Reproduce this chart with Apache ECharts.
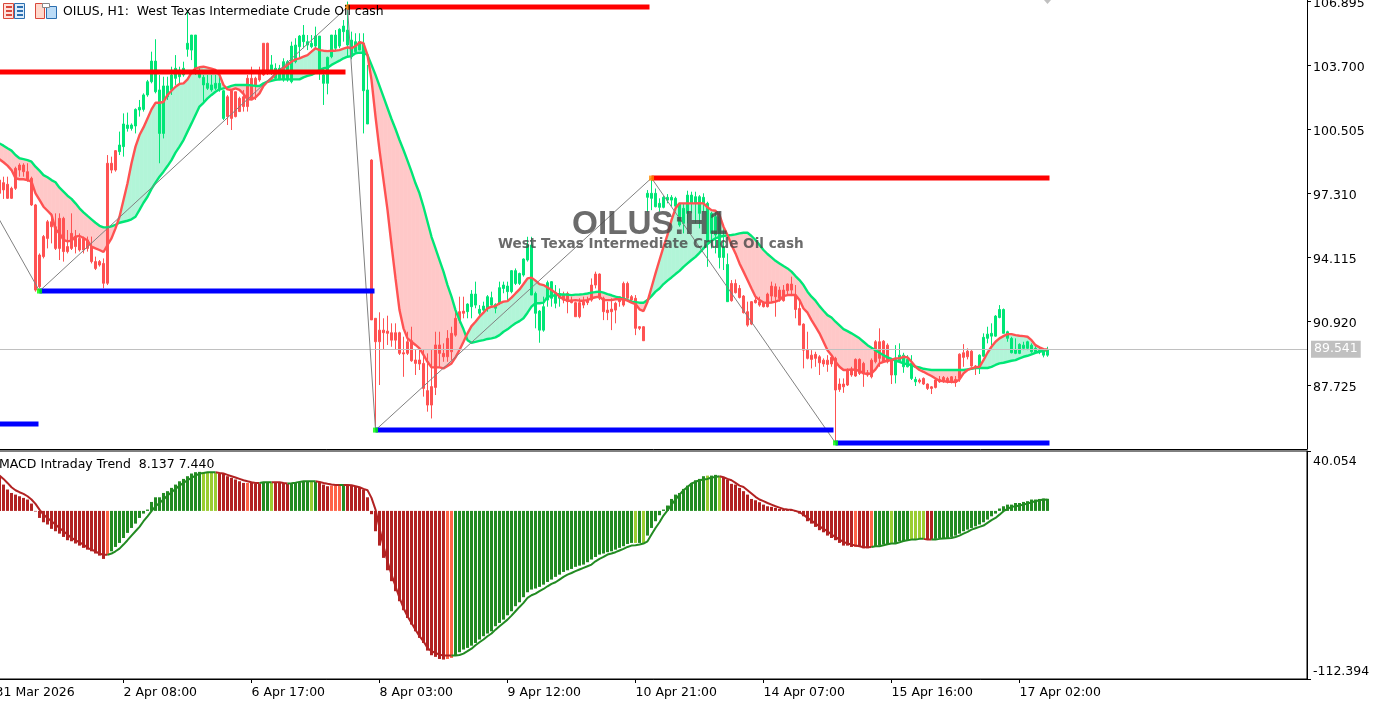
<!DOCTYPE html>
<html><head><meta charset="utf-8">
<style>html,body{margin:0;padding:0;background:#fff;overflow:hidden}#c{width:1375px;height:703px}</style>
<script src="https://cdn.jsdelivr.net/npm/echarts@6/dist/echarts.min.js"></script>
</head><body><div id="c"></div>
<script>
const firstBar=-1;
const bodyHigh=[97.98,97.85,97.77,97.57,98.57,98.73,98.73,98.40,98.07,96.74,94.24,95.16,95.90,95.90,95.65,96.07,96.07,94.66,95.32,95.16,95.07,95.07,94.99,94.66,93.91,93.91,93.82,98.82,98.82,99.45,99.73,100.78,100.73,100.73,101.51,101.61,102.23,102.89,103.92,103.92,102.48,102.68,102.68,103.23,103.56,103.28,103.56,104.81,105.22,105.22,103.28,103.11,102.81,102.73,102.81,102.81,102.44,102.14,102.44,102.39,102.06,102.14,103.06,103.06,103.06,103.31,104.81,104.81,103.73,103.56,103.56,103.89,103.89,104.67,104.72,105.17,105.22,104.89,104.81,105.17,105.17,103.23,104.11,105.22,105.22,105.51,105.67,105.47,104.97,104.89,104.89,104.81,102.48,98.98,
91.08,90.49,90.49,90.44,90.36,90.36,90.36,89.36,89.91,89.96,89.0,89.0,88.83,87.47,87.67,89.75,89.75,89.33,90.08,90.33,91.08,91.41,91.44,91.79,92.29,92.29,91.53,91.69,92.16,92.11,91.78,92.61,92.74,92.69,93.46,93.46,93.32,94.04,94.74,94.74,92.32,91.44,91.66,92.86,92.91,92.32,92.32,92.24,92.32,91.99,91.86,91.86,91.91,91.99,92.74,93.29,93.29,92.08,91.49,91.54,91.83,92.16,92.82,92.82,92.16,92.08,90.66,90.66,
97.32,97.32,97.32,96.82,97.12,97.12,97.12,97.07,96.82,96.57,97.23,97.23,97.15,97.15,97.12,96.82,96.32,96.15,96.15,94.65,93.77,92.82,92.82,92.57,92.19,91.41,91.91,91.99,91.91,91.86,92.29,92.69,92.66,92.49,92.49,92.79,92.79,92.24,91.57,90.79,89.49,89.24,89.28,89.16,88.99,88.99,89.13,89.08,87.80,87.80,88.53,88.53,89.03,89.03,88.83,88.36,88.99,89.91,89.91,89.94,89.74,88.99,89.03,89.24,89.24,89.03,88.83,88.03,88.0,88.08,87.80,87.66,88.0,88.03,88.13,88.08,88.16,88.03,89.29,89.36,89.44,89.44,88.70,89.24,90.13,90.29,90.33,91.19,91.52,91.52,90.41,90.08,89.53,89.78,89.74,89.91,89.74,89.58,89.49,89.46,89.53];
const bodyLow=[97.32,97.49,97.07,97.07,97.57,98.48,98.40,97.98,96.74,92.49,92.66,94.16,95.07,95.65,94.57,94.57,94.41,94.41,94.57,94.66,94.49,94.49,94.57,93.91,93.57,93.74,92.83,92.83,98.48,98.48,99.40,99.65,100.56,100.56,100.68,101.48,101.51,102.23,102.89,102.39,100.31,100.31,102.14,102.48,103.06,103.14,103.23,104.51,104.47,103.56,103.11,102.73,102.56,102.48,102.56,102.48,101.06,101.15,101.06,101.15,101.40,101.65,101.65,101.98,102.73,102.98,103.23,103.39,103.48,103.06,102.98,102.98,102.98,102.89,103.89,104.64,104.89,104.72,104.64,104.67,103.48,102.81,102.81,104.14,104.56,104.67,105.39,104.72,104.14,104.39,104.47,102.44,100.78,91.0,
89.91,89.91,90.36,90.33,89.99,89.99,89.33,89.30,89.33,88.96,88.83,88.80,87.58,86.75,86.75,87.63,89.33,89.16,89.16,89.41,90.24,90.99,91.33,91.41,91.66,91.74,91.33,91.49,91.58,91.74,91.58,91.83,92.57,92.41,92.41,92.82,92.82,93.24,93.99,92.24,91.33,90.49,90.49,91.99,92.08,91.83,92.08,91.99,91.91,91.86,91.16,91.16,91.74,91.86,91.99,92.74,92.08,91.41,91.36,91.41,91.49,91.91,91.74,92.08,91.99,90.58,90.58,89.96,
97.12,97.07,96.65,96.62,96.62,96.98,96.98,96.68,95.74,95.82,96.32,96.82,96.82,96.32,96.82,94.90,95.32,95.24,94.12,94.12,91.91,91.96,92.36,92.12,91.36,90.74,90.79,91.86,91.74,91.66,91.66,92.19,92.16,92.07,91.96,92.46,92.49,91.52,90.74,89.49,89.08,89.03,89.08,88.86,88.80,88.78,88.80,87.50,87.53,87.66,87.75,88.25,88.20,88.33,88.33,88.25,88.16,88.91,89.08,88.91,88.91,88.25,88.25,88.96,88.66,88.66,88.08,87.91,87.91,87.80,87.58,87.58,87.63,87.91,87.91,87.91,87.91,87.88,88.08,89.13,89.16,88.70,88.66,88.70,89.19,90.08,90.19,90.19,91.12,90.33,90.08,89.36,89.33,89.33,89.58,89.58,89.41,89.41,89.41,89.24,89.24];
const wickHigh=[98.15,98.15,98.15,97.65,98.65,98.82,98.82,98.82,98.15,96.79,94.32,95.24,95.99,96.32,96.32,96.32,96.15,95.49,96.32,95.49,95.32,95.16,95.16,95.16,94.16,93.99,94.07,99.23,99.15,99.48,100.40,101.31,101.35,100.81,101.56,101.98,102.31,102.98,104.39,105.01,103.23,103.14,103.14,103.64,104.22,103.64,103.89,106.47,105.22,105.22,103.64,103.23,103.23,103.23,103.23,103.14,102.48,102.23,102.48,102.39,102.14,102.48,103.23,103.64,103.14,103.64,104.81,104.84,104.22,103.81,103.73,104.06,103.97,104.89,105.06,105.22,105.72,105.22,105.22,105.64,105.17,103.56,104.14,105.22,105.47,105.56,105.97,106.89,105.39,105.31,105.31,105.31,103.73,99.02,
91.08,91.38,91.08,91.21,90.83,90.83,90.41,90.16,90.41,90.66,89.50,89.50,89.50,89.33,89.50,90.41,90.41,89.83,90.49,90.66,91.58,92.16,92.16,91.83,92.49,92.91,91.74,91.91,92.24,92.41,91.83,92.91,92.91,92.91,93.49,93.57,93.36,94.07,95.15,95.15,92.41,91.49,92.16,92.96,92.94,92.74,92.57,92.41,92.41,92.16,91.91,92.08,92.16,92.16,93.07,93.41,93.32,92.16,91.91,92.08,91.91,92.16,92.91,92.91,92.24,92.24,90.69,90.69,
97.48,97.98,97.56,97.07,97.18,97.28,97.23,97.15,96.82,96.82,97.45,97.40,97.40,97.23,97.32,96.90,96.40,96.40,96.40,95.57,94.32,92.99,93.02,92.74,92.24,91.91,91.94,92.16,92.16,91.91,92.36,92.91,92.82,92.66,92.74,92.82,93.16,92.74,91.91,90.83,90.41,89.49,89.41,89.24,89.08,89.24,89.24,89.16,88.08,88.08,88.58,88.66,89.08,89.08,88.91,88.50,89.08,89.99,90.58,89.99,89.83,89.08,89.74,89.83,89.36,89.24,89.24,88.16,88.08,88.13,87.83,87.70,88.08,88.20,88.20,88.16,88.20,88.20,89.33,89.79,89.58,89.49,88.75,89.28,90.33,90.66,90.83,91.24,91.74,91.57,90.46,90.16,90.08,89.83,89.91,89.96,89.83,89.74,89.66,89.58,89.66];
const wickLow=[96.99,97.04,97.04,97.04,97.49,98.15,98.15,97.90,96.69,92.41,92.58,94.07,94.57,94.82,94.49,93.99,93.91,94.32,94.49,94.32,94.41,94.32,94.41,93.82,93.49,93.66,92.58,92.74,98.32,98.40,99.23,99.15,100.40,100.45,100.31,101.15,101.40,102.14,102.81,102.31,98.82,100.06,101.98,102.23,102.73,102.81,103.14,104.14,103.97,103.23,103.06,101.81,102.48,102.39,102.48,102.39,100.98,100.73,100.48,101.11,101.40,101.40,101.40,101.98,101.98,102.89,103.18,103.23,103.23,102.98,102.98,102.89,102.89,102.81,103.81,104.06,104.56,104.47,104.56,104.56,102.98,101.73,102.26,104.06,104.47,104.56,104.89,104.14,104.01,104.39,104.47,100.31,100.78,91.0,
85.67,87.75,89.50,89.75,89.66,89.50,89.25,88.16,89.25,88.91,88.25,88.50,87.17,86.42,86.08,87.25,88.66,88.91,88.91,89.0,90.16,90.83,91.08,91.08,91.08,91.58,91.24,91.33,91.41,91.66,91.33,91.74,92.33,91.99,92.33,92.74,92.74,93.16,93.91,92.24,90.58,89.86,90.41,91.66,91.66,91.58,91.66,91.83,91.33,91.83,91.16,91.08,91.58,91.74,91.91,92.57,91.99,90.99,90.99,90.49,90.83,91.66,91.66,91.99,91.91,90.24,90.49,89.96,
96.40,96.48,96.62,96.40,96.57,96.82,96.65,96.57,95.65,95.32,95.82,96.32,95.82,95.57,96.40,93.65,94.57,94.32,93.57,93.49,91.91,91.91,92.32,92.07,91.32,90.66,90.74,91.82,91.66,91.62,91.62,91.91,91.16,91.91,91.91,92.24,92.19,91.08,90.74,88.58,89.03,88.58,88.66,88.25,88.66,88.41,88.66,84.92,87.41,87.36,87.70,88.16,88.16,88.25,87.66,88.16,88.08,88.83,88.66,88.86,88.83,87.80,87.83,88.86,88.36,88.63,88.0,87.70,87.83,87.75,87.50,87.30,87.58,87.86,87.86,87.83,87.83,87.66,87.91,88.66,89.03,88.66,88.25,88.30,89.16,89.83,89.74,90.16,91.08,90.33,89.91,89.33,89.29,89.29,89.49,89.49,89.36,89.33,89.29,89.13,89.16];
const fastLine=[99.02,98.87,98.70,98.48,98.07,98.02,98.02,97.98,97.90,97.32,96.99,96.65,96.45,96.24,95.52,95.32,94.99,94.92,94.96,95.16,95.19,95.09,94.96,94.66,94.57,94.49,94.39,94.74,95.07,95.57,96.15,96.99,97.82,98.82,99.65,100.23,100.61,101.06,101.51,101.84,101.84,101.88,102.23,102.44,102.64,102.78,102.81,103.01,103.34,103.56,103.61,103.64,103.59,103.54,103.48,103.23,102.73,102.51,102.48,102.56,102.48,102.28,102.01,102.01,102.11,102.31,102.68,102.89,103.06,103.28,103.44,103.56,103.73,103.89,104.01,104.06,104.14,104.22,104.39,104.56,104.47,104.44,104.42,104.44,104.44,104.47,104.54,104.61,104.56,104.67,104.86,104.81,104.22,102.98,101.15,99.48,
97.98,96.49,94.74,93.07,91.49,90.58,90.08,89.91,89.75,89.58,89.25,88.91,88.63,88.63,88.63,88.58,88.70,88.83,89.13,89.50,89.91,90.33,90.69,90.91,91.16,91.36,91.58,91.66,91.69,91.83,91.91,91.94,92.11,92.32,92.52,92.79,93.07,93.11,92.96,92.79,92.74,92.62,92.49,92.36,92.16,92.03,91.96,91.96,91.99,91.96,91.96,91.99,92.08,92.13,92.16,91.99,91.99,91.99,92.03,92.03,92.03,91.96,91.86,91.79,91.53,91.44,
91.91,92.62,93.32,93.99,94.65,95.24,95.98,96.57,96.82,96.82,96.82,96.82,96.82,96.83,96.82,96.62,96.48,96.45,96.23,95.65,95.24,94.74,94.32,93.82,93.41,92.99,92.57,92.16,91.99,91.87,91.86,91.87,91.91,91.99,92.19,92.24,92.24,92.24,91.99,91.57,91.36,90.99,90.66,90.33,89.91,89.49,89.24,88.91,88.66,88.50,88.50,88.53,88.50,88.46,88.33,88.30,88.33,88.53,88.83,88.91,88.96,88.99,89.08,89.08,89.16,89.13,88.91,88.66,88.50,88.41,88.30,88.20,88.08,87.96,87.95,87.91,87.91,87.90,88.03,88.33,88.50,88.58,88.63,88.66,88.99,89.36,89.66,89.91,90.08,90.19,90.29,90.29,90.24,90.21,90.19,90.16,89.99,89.74,89.63,89.54,89.53];
const slowLine=[99.81,99.70,99.57,99.45,99.23,99.07,99.03,98.98,98.90,98.65,98.45,98.23,98.12,97.98,97.87,97.60,97.40,97.20,97.04,96.82,96.57,96.37,96.19,96.02,95.85,95.70,95.62,95.62,95.67,95.75,95.85,95.90,95.95,96.02,96.15,96.49,96.85,97.15,97.54,97.85,98.15,98.40,98.68,98.98,99.35,99.65,99.98,100.40,100.81,101.23,101.65,101.84,102.06,102.23,102.39,102.51,102.56,102.61,102.68,102.73,102.73,102.73,102.73,102.71,102.68,102.68,102.81,102.89,102.94,102.98,103.01,103.01,103.01,103.01,103.01,103.01,103.11,103.18,103.23,103.34,103.48,103.56,103.59,103.73,103.84,103.94,104.06,104.14,104.17,104.31,104.34,104.34,104.22,103.73,103.23,102.68,102.13,101.58,101.03,100.53,99.98,99.48,
98.95,98.40,97.82,97.32,96.65,95.90,95.15,94.57,93.99,93.41,92.74,92.16,91.49,90.99,90.53,89.99,89.86,89.90,89.95,89.99,90.05,90.08,90.13,90.24,90.41,90.53,90.69,90.83,90.94,91.08,91.36,91.66,91.83,91.83,91.86,92.16,92.19,92.24,92.27,92.27,92.26,92.24,92.26,92.27,92.29,92.32,92.36,92.39,92.41,92.36,92.29,92.23,92.16,92.11,92.06,91.99,91.91,91.89,91.86,91.86,
91.99,92.19,92.41,92.57,92.79,92.96,93.12,93.29,93.45,93.65,93.82,93.99,94.15,94.35,94.57,94.79,94.95,95.07,95.15,95.19,95.22,95.24,95.27,95.32,95.35,95.35,95.19,94.99,94.74,94.49,94.29,94.12,93.95,93.82,93.69,93.57,93.41,93.19,92.99,92.74,92.41,92.16,91.96,91.69,91.46,91.24,91.12,90.91,90.73,90.54,90.44,90.33,90.21,90.08,89.91,89.74,89.61,89.49,89.36,89.24,89.13,89.05,88.96,88.91,88.83,88.78,88.75,88.66,88.63,88.56,88.53,88.50,88.50,88.50,88.50,88.50,88.50,88.50,88.50,88.50,88.53,88.56,88.60,88.60,88.60,88.60,88.66,88.75,88.83,88.86,88.91,88.96,88.99,89.08,89.16,89.21,89.28,89.36,89.41,89.46,89.49];
const macdHist=[23.2,17.6,14.3,12.0,10.9,9.8,8.7,7.6,4.9,-0.4,-4.7,-7.6,-9.1,-12.0,-13.6,-15.2,-17.4,-19.6,-20.3,-21.8,-23.2,-24.7,-25.9,-27.0,-28.5,-29.9,-32.1,-29.2,-27.0,-24.1,-21.4,-18.1,-14.7,-11.4,-8.5,-4.7,-1.8,0.9,6.0,9.1,9.1,12.0,13.2,15.4,17.6,19.8,21.4,23.2,25.0,25.9,26.1,25.9,25.4,25.4,25.4,25.0,25.0,23.2,22.1,21.0,19.8,18.7,18.7,18.7,18.3,18.3,18.7,18.7,18.7,19.2,18.7,18.7,18.1,18.1,18.7,19.2,19.4,19.4,19.4,19.4,19.4,17.6,16.5,16.9,16.9,16.9,16.9,17.2,16.9,16.0,15.4,14.3,9.1,-2.2,-13.6,-23.2,-31.4,-39.7,-47.0,-53.7,-60.4,-66.4,-71.6,-76.0,-80.5,-84.9,-88.3,-93.4,-96.5,-97.6,-99.0,-99.4,-99.0,-98.3,-96.7,-94.5,-92.7,-91.6,-90.1,-88.3,-86.0,-83.8,-82.0,-80.5,-77.1,-74.9,-72.7,-69.8,-67.1,-63.7,-61.1,-57.7,-54.4,-52.6,-51.9,-50.8,-49.3,-47.5,-45.9,-44.1,-42.6,-40.8,-39.7,-38.8,-37.4,-36.6,-35.9,-34.3,-32.5,-30.8,-29.2,-28.5,-27.6,-27.0,-25.9,-24.7,-23.6,-22.1,-21.4,-21.4,-21.4,-21.4,-16.5,-11.4,-6.9,-2.9,0.9,3.6,8.0,10.9,12.0,14.7,16.9,18.7,20.5,21.4,23.2,23.6,23.6,24.1,23.2,22.7,21.0,18.1,17.6,15.4,13.2,10.9,8.0,7.1,5.8,4.2,3.1,2.7,2.0,1.3,0.9,0.9,0.9,-0.4,-1.8,-3.6,-6.9,-8.5,-10.7,-12.9,-14.3,-16.5,-18.1,-19.6,-21.4,-23.2,-23.2,-24.1,-24.1,-24.1,-25.0,-25.0,-24.1,-23.6,-23.2,-22.5,-22.3,-21.4,-21.4,-20.3,-20.3,-19.8,-19.2,-19.2,-18.7,-18.7,-19.2,-19.2,-18.7,-18.1,-18.1,-18.1,-17.4,-16.5,-15.2,-13.6,-12.5,-11.4,-10.3,-9.1,-7.6,-5.8,-3.6,-1.8,1.6,3.1,4.2,4.2,5.3,5.3,6.0,6.5,7.6,7.6,8.0,8.2,8.1];
const macdSignal=[23.6,21.4,18.7,15.8,13.8,12.5,11.4,9.8,7.6,4.7,0.9,-2.5,-4.7,-6.9,-9.1,-11.4,-13.6,-15.8,-18.1,-19.6,-21.0,-22.5,-24.7,-25.9,-27.0,-28.5,-29.4,-29.4,-28.5,-27.0,-25.2,-22.5,-19.6,-16.5,-13.6,-10.7,-6.9,-3.6,-0.2,3.1,5.3,7.6,10.3,12.5,14.7,16.9,18.7,20.5,22.1,23.6,25.0,25.4,25.9,25.9,25.9,25.4,25.0,24.1,23.2,22.3,21.4,20.5,19.8,19.2,18.7,18.7,19.2,19.2,19.2,19.2,19.2,18.7,18.3,18.5,18.9,19.4,19.8,19.8,19.8,19.8,19.4,18.7,18.1,17.6,17.4,17.4,17.4,17.4,17.2,16.5,15.8,14.7,13.8,8.7,0.9,-11.4,-23.6,-33.7,-42.6,-50.4,-58.2,-64.9,-70.4,-74.9,-79.4,-83.8,-87.2,-91.6,-93.8,-95.0,-96.1,-96.7,-96.7,-96.7,-96.7,-96.3,-95.4,-93.8,-92.1,-89.8,-87.8,-86.0,-83.8,-82.0,-79.4,-77.1,-74.9,-72.7,-70.0,-67.1,-64.2,-61.5,-58.2,-56.4,-55.3,-53.7,-52.2,-50.4,-48.8,-47.7,-45.9,-44.1,-42.6,-41.5,-40.3,-39.2,-38.1,-37.0,-35.9,-33.7,-32.1,-30.8,-29.2,-28.5,-27.6,-26.5,-25.4,-24.1,-23.2,-23.0,-22.5,-21.8,-20.3,-15.8,-11.4,-7.6,-3.1,0.4,4.2,7.6,10.9,13.8,16.0,18.3,19.4,20.5,21.0,21.4,22.3,22.7,23.2,22.5,21.4,20.5,18.7,16.9,16.0,13.8,11.6,9.4,7.6,6.5,5.3,4.2,3.1,2.2,1.3,0.9,0.7,0,-0.9,-2.5,-4.7,-6.5,-8.5,-10.3,-12.0,-13.6,-15.8,-17.4,-19.2,-20.7,-21.8,-22.5,-23.2,-23.6,-24.3,-24.3,-24.1,-23.6,-23.6,-23.0,-22.3,-21.8,-21.8,-21.0,-20.1,-19.6,-19.2,-19.2,-18.7,-18.7,-19.2,-19.2,-19.2,-18.7,-18.5,-18.3,-18.1,-17.4,-16.5,-15.2,-14.0,-12.5,-11.6,-10.7,-9.8,-8.0,-6.2,-4.7,-2.5,-0.2,1.3,2.7,3.1,3.6,4.2,4.9,5.8,6.5,7.1,7.6,7.4];
// bar index where each colour run starts
const candleRuns=[[-1,'R'],[29,'G'],[56,'R'],[67,'G'],[92,'R'],[116,'G'],[140,'R'],[161,'G'],[182,'R'],[223,'G'],[229,'R'],[244,'G']];
const macdRuns=[[-1,'R'],[26,'T'],[27,'G'],[50,'L'],[54,'R'],[61,'T'],[62,'R'],[65,'G'],[67,'L'],[68,'R'],[72,'G'],[77,'L'],[78,'G'],[79,'R'],[82,'T'],[85,'G'],[86,'R'],[111,'T'],[113,'G'],[158,'L'],[159,'G'],[160,'L'],[161,'G'],[176,'L'],[177,'G'],[179,'L'],[180,'R'],[213,'T'],[214,'R'],[217,'T'],[218,'G'],[222,'L'],[223,'G'],[227,'L'],[231,'R'],[233,'G']];
const zigzagBars=[-1,9,86,93,162,208];
const zigzagPrices=[95.99,92.44,106.62,85.50,98.08,84.86];
const pivotLows=[[9,92.44],[93,85.50],[208,84.86]];
const pivotHighs=[[86,106.62],[162,98.08]];
const levelLines=[[-2.75,85.5,103.38,'#ff0000'],[9,92.75,92.44,'#0000ff'],[86,161.5,106.62,'#ff0000'],[-2.75,8.75,85.80,'#0000ff'],[93,207.5,85.50,'#0000ff'],[162,261.5,98.08,'#ff0000'],[208,261.5,84.86,'#0000ff']];
const lastPrice=89.541;
const priceTicks=[87.725,90.920,94.115,97.310,100.505,103.700,106.895];
const macdTicks=[-112.394,40.054];
const timeBars=[-2,30,62,94,126,158,190,222,254];
const timeLabels=['31 Mar 2026','2 Apr 08:00','6 Apr 17:00','8 Apr 03:00','9 Apr 12:00','10 Apr 21:00','14 Apr 07:00','15 Apr 16:00','17 Apr 02:00'];

const FONT='"DejaVu Sans"';
const UP='#00e676',DN='#ff5252';
const runAt=(runs,i)=>{let s=runs[0][1];for(const r of runs){if(i>=r[0])s=r[1];else break}return s};
const bars=macdHist.map((_,k)=>k+firstBar);
const candleData=bars.map((i,k)=>{const c=runAt(candleRuns,i)==='G'?UP:DN;return {value:[i,bodyLow[k],bodyHigh[k],wickLow[k],wickHigh[k]],itemStyle:{color:c,color0:c,borderColor:c,borderColor0:c}}});
const macdColor={R:'#b22222',T:'#ff6347',G:'#228b22',L:'#9acd32'};
const histData=bars.map((i,k)=>({value:[i,macdHist[k]],itemStyle:{color:macdColor[runAt(macdRuns,i)]}}));
const isRed=i=>{const s=runAt(macdRuns,i);return s==='R'||s==='T'};
const sigRed=bars.map((i,k)=>[i,(isRed(i)||isRed(i+1))?macdSignal[k]:'-']);
const sigGreen=bars.map((i,k)=>[i,(!isRed(i)||(k<bars.length-1&&!isRed(i+1)))?macdSignal[k]:'-']);
const fillData=bars.slice(0,-1).map((i,k)=>[i,fastLine[k],slowLine[k],fastLine[k+1],slowLine[k+1]]);
const PINK='#ffc8c8',MINT='#b2f5d8';
function renderFill(p,api){
  const x0=api.value(0),f0=api.value(1),s0=api.value(2),f1=api.value(3),s1=api.value(4);
  const poly=(pts,c)=>({type:'polygon',shape:{points:pts.map(q=>api.coord(q))},style:{fill:c,stroke:c,lineWidth:0.6}});
  const d0=f0-s0,d1=f1-s1;
  if(d0*d1<0){const t=d0/(d0-d1),xc=x0+t,yc=f0+(f1-f0)*t;
    return {type:'group',children:[poly([[x0,f0],[xc,yc],[x0,s0]],d0>0?MINT:PINK),poly([[xc,yc],[x0+1,f1],[x0+1,s1]],d1>0?MINT:PINK)]};}
  return poly([[x0,f0],[x0+1,f1],[x0+1,s1],[x0,s0]],(d0+d1)>0?MINT:PINK);
}
const withBars=a=>a.map((v,k)=>[k+firstBar,v]);
const chart=echarts.init(document.getElementById('c'),null,{renderer:'canvas'});
const levelSeries=levelLines.map(l=>({type:'line',xAxisIndex:0,yAxisIndex:0,data:[[l[0],l[2]],[l[1],l[2]]],symbol:'none',silent:true,z:6,lineStyle:{color:l[3],width:5,cap:'butt'}}));
chart.setOption({
 animation:false,backgroundColor:'#fff',
 grid:[{left:-7.5,top:0,width:1314.5,height:449,outerBoundsMode:'none'},
       {left:-7.5,top:451,width:1314.5,height:228,outerBoundsMode:'none',show:true,borderColor:'#000',borderWidth:1,backgroundColor:'transparent'}],
 xAxis:[
  {type:'value',gridIndex:0,min:-2.75,max:325.875,axisLine:{show:true,onZero:false,lineStyle:{color:'#000'}},axisTick:{show:false},axisLabel:{show:false},splitLine:{show:false}},
  {type:'value',gridIndex:1,min:-2.75,max:325.875,position:'bottom',axisLine:{show:true,onZero:false,lineStyle:{color:'#000'}},
   axisTick:{show:true,length:4,lineStyle:{color:'#000'},customValues:timeBars},
   axisLabel:{show:true,customValues:timeBars,align:'left',margin:7,color:'#000',fontFamily:FONT,fontSize:12.5,formatter:v=>timeLabels[timeBars.indexOf(v)]||''},splitLine:{show:false}}
 ],
 yAxis:[
  {type:'value',gridIndex:0,position:'right',min:84.556,max:106.97,axisLine:{show:true,onZero:false,lineStyle:{color:'#000'}},
   axisTick:{show:true,length:4,lineStyle:{color:'#000'},customValues:priceTicks},
   axisLabel:{show:true,customValues:priceTicks,margin:6,color:'#000',fontFamily:FONT,fontSize:12.5,formatter:v=>'{p|'+v.toFixed(3)+'}',rich:{p:{padding:[4,0,0,0],color:'#000',fontFamily:FONT,fontSize:12.5}}},splitLine:{show:false}},
  {type:'value',gridIndex:1,position:'right',min:macdTicks[0],max:macdTicks[1],axisLine:{show:true,onZero:false,lineStyle:{color:'#000'}},
   axisTick:{show:true,length:4,lineStyle:{color:'#000'},customValues:macdTicks},
   axisLabel:{show:true,customValues:macdTicks,margin:6,color:'#000',fontFamily:FONT,fontSize:12.5,verticalAlignMinLabel:'bottom',verticalAlignMaxLabel:'top',padding:[4,0,1,0],formatter:v=>v.toFixed(3)},splitLine:{show:false}}
 ],
 series:[
  {type:'custom',xAxisIndex:0,yAxisIndex:0,data:fillData,renderItem:renderFill,encode:{x:0,y:[1,2]},silent:true,z:1,clip:true},
  {type:'candlestick',xAxisIndex:0,yAxisIndex:0,data:candleData,encode:{x:0,y:[1,2,3,4]},barWidth:2,silent:true,z:2,itemStyle:{borderWidth:1}},
  {type:'line',xAxisIndex:0,yAxisIndex:0,data:withBars(slowLine),symbol:'none',silent:true,z:3,lineStyle:{color:UP,width:2.4},
   markLine:{silent:true,symbol:'none',animation:false,data:[{yAxis:lastPrice}],lineStyle:{color:'#c0c0c0',width:1,type:'solid'},
     label:{show:true,position:'end',distance:4,formatter:()=>lastPrice.toFixed(3),color:'#fff',backgroundColor:'#c0c0c0',padding:[2,3,2,3],fontFamily:FONT,fontSize:12.5}}},
  {type:'line',xAxisIndex:0,yAxisIndex:0,data:withBars(fastLine),symbol:'none',silent:true,z:4,lineStyle:{color:DN,width:2.4}},
  {type:'line',xAxisIndex:0,yAxisIndex:0,data:zigzagBars.map((b,k)=>[b,zigzagPrices[k]]),symbol:'none',silent:true,z:5,lineStyle:{color:'#808080',width:1}},
  ...levelSeries,
  {type:'scatter',xAxisIndex:0,yAxisIndex:0,data:pivotLows,symbol:'rect',symbolSize:5,silent:true,z:7,itemStyle:{color:'#00ff00'}},
  {type:'scatter',xAxisIndex:0,yAxisIndex:0,data:pivotHighs,symbol:'rect',symbolSize:5,silent:true,z:7,itemStyle:{color:'#ff8c00'}},
  {type:'bar',xAxisIndex:1,yAxisIndex:1,data:histData,barWidth:3,silent:true,z:2},
  {type:'line',xAxisIndex:1,yAxisIndex:1,data:sigRed,symbol:'none',silent:true,z:3,connectNulls:false,lineStyle:{color:'#b22222',width:2}},
  {type:'line',xAxisIndex:1,yAxisIndex:1,data:sigGreen,symbol:'none',silent:true,z:3,connectNulls:false,lineStyle:{color:'#228b22',width:2}}
 ],
 graphic:[
  {type:'text',z:100,x:63,y:6,style:{text:'OILUS, H1:  West Texas Intermediate Crude Oil cash',fontFamily:FONT,fontSize:12.4,fill:'#000'}},
  {type:'text',z:100,x:-1,y:458,style:{text:'MACD Intraday Trend  8.137 7.440',fontFamily:FONT,fontSize:12.5,fill:'#000'}},
  {type:'text',z:100,x:572,y:208,style:{text:'OILUS:H1',fontFamily:'"Liberation Sans"',fontWeight:'bold',fontSize:33.3,fill:'rgba(70,70,70,0.8)'}},
  {type:'text',z:100,x:498,y:237,style:{text:'West Texas Intermediate Crude Oil cash',fontFamily:FONT,fontWeight:'bold',fontSize:13.6,fill:'rgba(70,70,70,0.8)'}},
  {type:'polygon',z:100,shape:{points:[[1044,0],[1051,0],[1047.5,4]]},style:{fill:'#c0c0c0'}},
  {type:'rect',z:100,shape:{x:3.5,y:3.5,width:10,height:15},style:{fill:'#ffe0da',stroke:'#d9483b'}},
  {type:'rect',z:100,shape:{x:14.5,y:3.5,width:10,height:15},style:{fill:'#dcecfb',stroke:'#2c6fb0'}},
  {type:'rect',z:100,shape:{x:6,y:6,width:6,height:2},style:{fill:'#d9483b'}},
  {type:'rect',z:100,shape:{x:6,y:10,width:6,height:2},style:{fill:'#d9483b'}},
  {type:'rect',z:100,shape:{x:6,y:14,width:6,height:2},style:{fill:'#d9483b'}},
  {type:'rect',z:100,shape:{x:17,y:6,width:6,height:2},style:{fill:'#2c6fb0'}},
  {type:'rect',z:100,shape:{x:17,y:10,width:6,height:2},style:{fill:'#2c6fb0'}},
  {type:'rect',z:100,shape:{x:17,y:14,width:6,height:2},style:{fill:'#2c6fb0'}},
  {type:'rect',z:100,shape:{x:35.5,y:3.5,width:9,height:15},style:{fill:'#ffd8cc',stroke:'#d9483b'}},
  {type:'rect',z:100,shape:{x:46.5,y:6.5,width:10,height:12},style:{fill:'#bcdcf7',stroke:'#2c6fb0'}},
  {type:'rect',z:100,shape:{x:42.5,y:3.5,width:7,height:4},style:{fill:'#fff',stroke:'#888'}}
 ]
});
</script></body></html>
